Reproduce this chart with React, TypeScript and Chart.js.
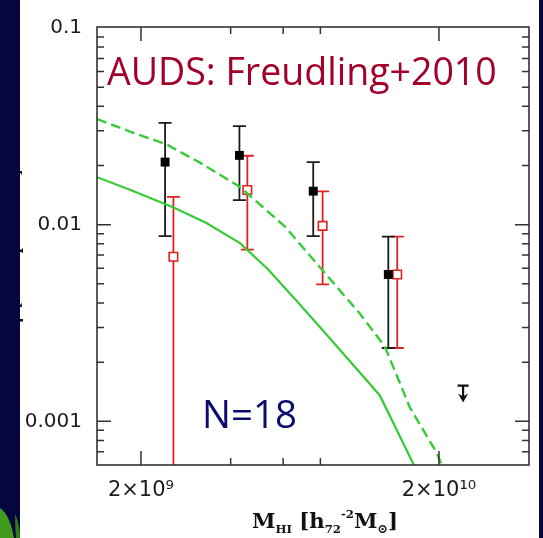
import { useEffect, useRef } from "react";
import { Chart, registerables } from "chart.js";
Chart.register(...registerables);

const W = 543;
const H = 538;

// axis limits
const X_MIN = 1.424e9;
const X_MAX = 4.01e10;
const Y_MIN = 0.000628;
const Y_MAX = 0.1011;

// tick values and labels
const X_TICKS = [2e9, 4e9, 6e9, 8e9, 2e10, 4e10];
const X_TICK_LABELS = ["2×10⁹", "", "", "", "2×10¹⁰", ""];
const Y_TICKS = [
  0.0007, 0.0008, 0.0009, 0.001, 0.002, 0.003, 0.004, 0.005, 0.006, 0.007, 0.008, 0.009,
  0.01, 0.02, 0.03, 0.04, 0.05, 0.06, 0.07, 0.08, 0.09, 0.1,
];
const Y_TICK_LABELS = [
  "", "", "", "0.001", "", "", "", "", "", "", "", "",
  "0.01", "", "", "", "", "", "", "", "", "0.1",
];

// black filled squares (all galaxies)
const BLACK_MASS = [2.41e9, 4.28e9, 7.57e9, 1.352e10];
const BLACK_PHI = [0.0208, 0.0225, 0.0148, 0.00558];
const BLACK_HI = [0.0329, 0.0317, 0.0208, 0.00869];
const BLACK_LO = [0.00875, 0.01334, 0.00875, 0.00236];

// red open squares
const RED_MASS = [2.57e9, 4.55e9, 8.14e9, 1.449e10];
const RED_PHI = [0.00687, 0.015, 0.00986, 0.00558];
const RED_HI = [0.01384, 0.0224, 0.01475, 0.00869];
const RED_LO = [0.00001, 0.00746, 0.00497, 0.00236];

// upper limit
const LIMIT_MASS = [2.41e10];
const LIMIT_PHI = [0.00152];

// solid green curve
const SOLID_MASS = [1.424e9, 1.837e9, 2.562e9, 3.305e9, 4.298e9, 5.336e9, 6.675e9, 8.16e9, 1.265e10, 1.623e10, 1.727e10];
const SOLID_PHI = [0.01743, 0.01504, 0.01227, 0.01023, 0.00806, 0.005935, 0.00408, 0.0029, 0.001358, 0.000628, 0.000518];

// dashed green curve
const DASHED_MASS = [1.424e9, 1.837e9, 2.427e9, 3.155e9, 4.298e9, 6.085e9, 6.83e9, 8.61e9, 1.086e10, 1.318e10, 1.599e10, 1.97e10, 2.047e10];
const DASHED_PHI = [0.03443, 0.02972, 0.02565, 0.02066, 0.01555, 0.00977, 0.00797, 0.0053, 0.003524, 0.002394, 0.001172, 0.000688, 0.000593];

const GREEN = "#35cc35";
const RED = "#dd2222";
const INK = "#1c1c1c";

const pts = (xs: number[], ys: number[]) => xs.map((x, i) => ({ x, y: ys[i] }));

const bgPlugin = {
  id: "bg",
  beforeDraw(chart: any) {
    const ctx = chart.ctx as CanvasRenderingContext2D;
    ctx.save();
    ctx.fillStyle = "#06063f";
    ctx.fillRect(0, 0, W, H);
    // green leaves lower left
    ctx.fillStyle = "#3f9a1e";
    ctx.beginPath();
    ctx.moveTo(0, 508);
    ctx.quadraticCurveTo(10, 515, 14, 538);
    ctx.lineTo(0, 538);
    ctx.closePath();
    ctx.fill();
    ctx.fillStyle = "#2f7d14";
    ctx.beginPath();
    ctx.moveTo(15, 514);
    ctx.quadraticCurveTo(20, 525, 20, 538);
    ctx.lineTo(16, 538);
    ctx.quadraticCurveTo(15, 525, 15, 514);
    ctx.fill();
    ctx.fillStyle = "#ffffff";
    ctx.fillRect(20, 0, 519, H);
    // y-axis title, mostly cut off by the left strip
    ctx.beginPath();
    ctx.rect(20, 0, 519, H);
    ctx.clip();
    ctx.translate(20, 248);
    ctx.rotate(-Math.PI / 2);
    ctx.fillStyle = "#111";
    ctx.font = "bold 14px 'DejaVu Serif'";
    ctx.textAlign = "center";
    ctx.textBaseline = "alphabetic";
    ctx.fillText("ϕ [h₇₂³ Mpc⁻³ dex⁻¹]", 0, 0);
    ctx.restore();
  },
};

const errPlugin = {
  id: "err",
  beforeDatasetDraw(chart: any, args: any) {
    const ds = chart.data.datasets[args.index];
    if (!ds.err) return;
    const { x, y } = chart.scales;
    const a = chart.chartArea;
    const ctx = chart.ctx as CanvasRenderingContext2D;
    ctx.save();
    ctx.beginPath();
    ctx.rect(a.left, a.top, a.right - a.left, a.bottom - a.top);
    ctx.clip();
    ctx.strokeStyle = ds.err.color;
    ctx.lineWidth = 1.8;
    ds.err.mass.forEach((m: number, i: number) => {
      const px = x.getPixelForValue(m);
      const yt = y.getPixelForValue(ds.err.hi[i]);
      const yb = y.getPixelForValue(ds.err.lo[i]);
      ctx.beginPath();
      ctx.moveTo(px, yt);
      ctx.lineTo(px, yb);
      ctx.moveTo(px - 6.5, yt);
      ctx.lineTo(px + 6.5, yt);
      ctx.moveTo(px - 6.5, yb);
      ctx.lineTo(px + 6.5, yb);
      ctx.stroke();
    });
    ctx.restore();
  },
};

const frontPlugin = {
  id: "front",
  afterDraw(chart: any) {
    const ctx = chart.ctx as CanvasRenderingContext2D;
    const { x, y } = chart.scales;
    const a = chart.chartArea;
    ctx.save();
    // upper limits
    ctx.strokeStyle = "#111";
    ctx.fillStyle = "#111";
    ctx.lineWidth = 2.2;
    LIMIT_MASS.forEach((m, i) => {
      const px = x.getPixelForValue(m);
      const py = y.getPixelForValue(LIMIT_PHI[i]);
      ctx.beginPath();
      ctx.moveTo(px - 5.5, py);
      ctx.lineTo(px + 5.5, py);
      ctx.moveTo(px, py);
      ctx.lineTo(px, py + 14);
      ctx.stroke();
      ctx.beginPath();
      ctx.moveTo(px - 5, py + 8);
      ctx.lineTo(px, py + 17);
      ctx.lineTo(px + 5, py + 8);
      ctx.lineTo(px, py + 11);
      ctx.closePath();
      ctx.fill();
    });
    // frame
    ctx.strokeStyle = "#333";
    ctx.lineWidth = 1.6;
    ctx.strokeRect(a.left, a.top, a.right - a.left, a.bottom - a.top);
    // ticks
    ctx.lineWidth = 1.5;
    ctx.beginPath();
    X_TICKS.forEach((v, i) => {
      const px = x.getPixelForValue(v);
      if (px < a.left + 1 || px > a.right - 1) return;
      const len = X_TICK_LABELS[i] ? 14 : 7;
      ctx.moveTo(px, a.bottom);
      ctx.lineTo(px, a.bottom - len);
      ctx.moveTo(px, a.top);
      ctx.lineTo(px, a.top + len);
    });
    Y_TICKS.forEach((v, i) => {
      const py = y.getPixelForValue(v);
      if (py < a.top + 1 || py > a.bottom - 1) return;
      const len = Y_TICK_LABELS[i] ? 14 : 7;
      ctx.moveTo(a.left, py);
      ctx.lineTo(a.left + len, py);
      ctx.moveTo(a.right, py);
      ctx.lineTo(a.right - len, py);
    });
    ctx.stroke();

    // annotations
    ctx.textBaseline = "alphabetic";
    ctx.textAlign = "left";
    const fit = (text: string, family: string, width: number) => {
      ctx.font = `40px ${family}`;
      const w = ctx.measureText(text).width;
      return (40 * width) / w;
    };
    const t1 = "AUDS: Freudling+2010";
    const s1 = fit(t1, "'Open Sans'", 390);
    ctx.font = `${s1}px 'Open Sans'`;
    ctx.fillStyle = "#a3002a";
    ctx.fillText(t1, 107, 85);
    const t2 = "N=18";
    const s2 = fit(t2, "'Open Sans'", 95);
    ctx.font = `${s2}px 'Open Sans'`;
    ctx.fillStyle = "#0c0c6c";
    ctx.fillText(t2, 202, 428);

    // x axis title, scaled to span 252..398
    ctx.fillStyle = "#111";
    const pieces: [string, number, number][] = [
      ["M", 1, 0],
      ["HI", 0.55, 0.25],
      [" [h", 1, 0],
      ["72", 0.55, 0.25],
      ["-2", 0.55, -0.45],
      ["M", 1, 0],
      ["⊙", 0.6, 0.25],
      ["]", 1, 0],
    ];
    const base = 14;
    let total = 0;
    pieces.forEach(([t, k]) => {
      ctx.font = `bold ${base * k}px 'DejaVu Serif'`;
      total += ctx.measureText(t).width;
    });
    const size = (base * 146) / total;
    let cx = 252;
    pieces.forEach(([t, k, dy]) => {
      ctx.font = `bold ${size * k}px 'DejaVu Serif'`;
      ctx.fillText(t, cx, 528 + dy * size);
      cx += ctx.measureText(t).width;
    });
    ctx.restore();
  },
};

export default function App() {
  const ref = useRef<HTMLCanvasElement | null>(null);
  useEffect(() => {
    if (!ref.current) return;
    const chart = new Chart(ref.current, {
      type: "scatter",
      data: {
        datasets: [
          {
            type: "line",
            data: pts(SOLID_MASS, SOLID_PHI),
            borderColor: GREEN,
            borderWidth: 2.2,
            pointRadius: 0,
            fill: false,
            tension: 0,
          } as any,
          {
            type: "line",
            data: pts(DASHED_MASS, DASHED_PHI),
            borderColor: GREEN,
            borderWidth: 2.4,
            borderDash: [10, 5],
            pointRadius: 0,
            fill: false,
            tension: 0,
          } as any,
          {
            data: pts(BLACK_MASS, BLACK_PHI),
            pointStyle: "rect",
            pointRadius: 6.3,
            backgroundColor: "#000",
            borderWidth: 0,
            err: { mass: BLACK_MASS, hi: BLACK_HI, lo: BLACK_LO, color: INK },
          } as any,
          {
            data: pts(RED_MASS, RED_PHI),
            pointStyle: "rect",
            pointRadius: 6,
            backgroundColor: "#fff",
            borderColor: RED,
            borderWidth: 1.6,
            err: { mass: RED_MASS, hi: RED_HI, lo: RED_LO, color: RED },
          } as any,
        ],
      },
      options: {
        responsive: false,
        animation: false,
        devicePixelRatio: 1,
        layout: { padding: { top: 17, right: 14, left: 0, bottom: 0 } },
        plugins: { legend: { display: false }, tooltip: { enabled: false } },
        scales: {
          x: {
            type: "logarithmic",
            min: X_MIN,
            max: X_MAX,
            grid: { display: false, drawTicks: false },
            border: { display: false },
            afterBuildTicks: (s: any) => {
              s.ticks = X_TICKS.map((v) => ({ value: v }));
            },
            afterFit: (s: any) => {
              s.height = 73;
            },
            ticks: {
              autoSkip: false,
              maxRotation: 0,
              padding: 13,
              color: INK,
              font: { family: "'DejaVu Sans'", size: 21 },
              callback: (_v: any, i: number) => X_TICK_LABELS[i],
            },
          },
          y: {
            type: "logarithmic",
            min: Y_MIN,
            max: Y_MAX,
            grid: { display: false, drawTicks: false },
            border: { display: false },
            afterBuildTicks: (s: any) => {
              s.ticks = Y_TICKS.map((v) => ({ value: v }));
            },
            afterFit: (s: any) => {
              s.width = 97;
            },
            ticks: {
              autoSkip: false,
              padding: 15,
              color: INK,
              font: { family: "'DejaVu Sans'", size: 20 },
              callback: (_v: any, i: number) => Y_TICK_LABELS[i],
            },
          },
        },
      } as any,
      plugins: [bgPlugin, errPlugin, frontPlugin],
    });
    return () => chart.destroy();
  }, []);
  return (
    <div style={{ position: "fixed", left: 0, top: 0, width: W, height: H }}>
      <canvas ref={ref} width={W} height={H} style={{ display: "block", width: W, height: H }} />
    </div>
  );
}
